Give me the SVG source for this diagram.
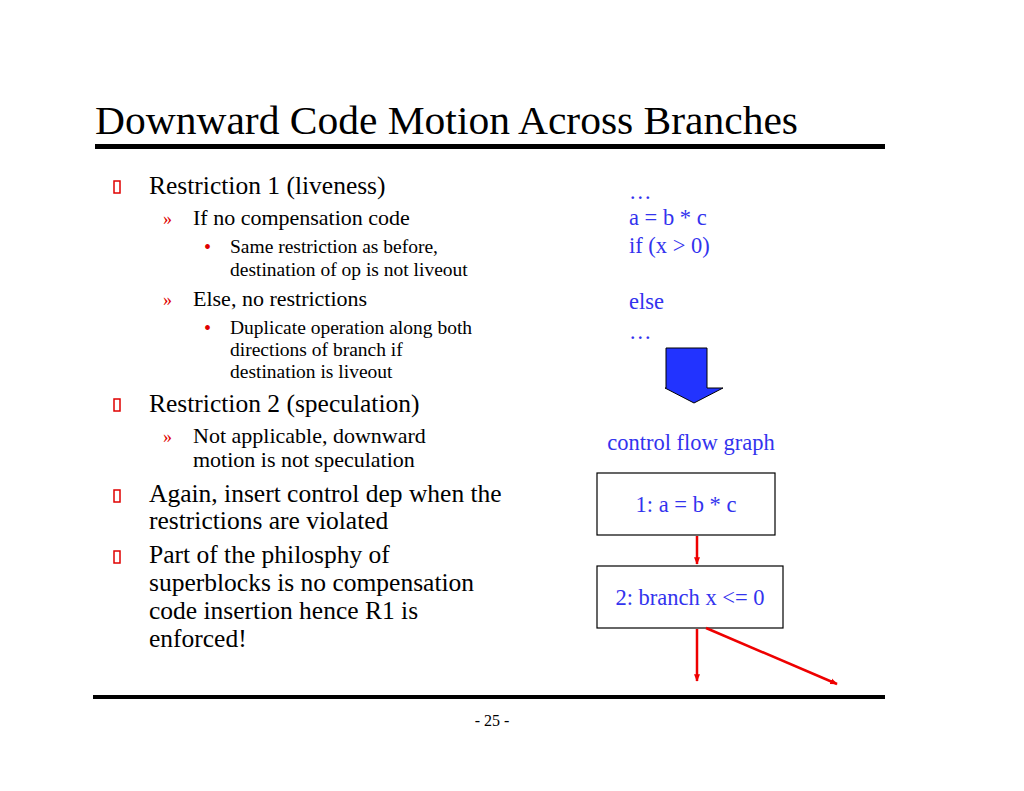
<svg xmlns="http://www.w3.org/2000/svg" width="1024" height="791" viewBox="0 0 1024 791">
<style>
text{font-family:"Liberation Serif","Times New Roman",serif}
.t{font-size:40px;fill:#000}
.l1{font-size:25.5px;fill:#000}
.l2{font-size:22px;fill:#000}
.l3{font-size:19.5px;fill:#000}
.bt{font-size:22.5px;fill:#3333ee}
.m{fill:#e00000}
.sq{fill:none;stroke:#e00000;stroke-width:1.5}
.box{fill:#fff;stroke:#000;stroke-width:1.2}
.e{stroke:#ee0000;stroke-width:2.5;fill:none}
</style>
<defs><marker id="ah" viewBox="0 0 10 10" refX="9" refY="5" markerWidth="3" markerHeight="3" orient="auto"><path d="M0,1 L10,5 L0,9 z" fill="#ee0000"/></marker></defs>
<rect width="1024" height="791" fill="#fff"/>
<text class="t" x="95" y="134" textLength="703" lengthAdjust="spacingAndGlyphs">Downward Code Motion Across Branches</text>
<rect x="95" y="144" width="790" height="5" fill="#000"/>
<rect x="93" y="695" width="792" height="4" fill="#000"/>
<text x="492" y="726" font-size="16" text-anchor="middle">- 25 -</text>
<g id="bullets">
<rect class="sq" x="114" y="181" width="6" height="12"/>
<text class="l1" x="149" y="194">Restriction 1 (liveness)</text>
<text class="m" x="163" y="225" font-size="18">»</text>
<text class="l2" x="193" y="225">If no compensation code</text>
<text class="m" x="204" y="254" font-size="20">•</text>
<text class="l3" x="230" y="253">Same restriction as before,</text>
<text class="l3" x="230" y="276">destination of op is not liveout</text>
<text class="m" x="163" y="306" font-size="18">»</text>
<text class="l2" x="193" y="306">Else, no restrictions</text>
<text class="m" x="204" y="335" font-size="20">•</text>
<text class="l3" x="230" y="334">Duplicate operation along both</text>
<text class="l3" x="230" y="356">directions of branch if</text>
<text class="l3" x="230" y="378">destination is liveout</text>
<rect class="sq" x="114" y="399" width="6" height="12"/>
<text class="l1" x="149" y="412">Restriction 2 (speculation)</text>
<text class="m" x="163" y="443" font-size="18">»</text>
<text class="l2" x="193" y="443">Not applicable, downward</text>
<text class="l2" x="193" y="467">motion is not speculation</text>
<rect class="sq" x="114" y="490" width="6" height="12"/>
<text class="l1" x="149" y="502">Again, insert control dep when the</text>
<text class="l1" x="149" y="529">restrictions are violated</text>
<rect class="sq" x="114" y="551" width="6" height="12"/>
<text class="l1" x="149" y="563">Part of the philosphy of</text>
<text class="l1" x="149" y="591">superblocks is no compensation</text>
<text class="l1" x="149" y="619">code insertion hence R1 is</text>
<text class="l1" x="149" y="647">enforced!</text>
</g>
<g id="code">
<text class="bt" x="629" y="199">…</text>
<text class="bt" x="629" y="225">a = b * c</text>
<text class="bt" x="629" y="253">if (x &gt; 0)</text>
<text class="bt" x="629" y="309">else</text>
<text class="bt" x="629" y="339">…</text>
</g>
<path id="bigarrow" d="M666,348 H707 V388 H723 L694,403 L665,388 H666 Z" fill="#2233ff" stroke="#000" stroke-width="1"/>
<text class="bt" x="691" y="450" text-anchor="middle">control flow graph</text>
<g id="n1"><rect class="box" x="597" y="473" width="178" height="62"/><text class="bt" x="686" y="512" text-anchor="middle">1: a = b * c</text></g>
<g id="n2"><rect class="box" x="597" y="566" width="186" height="62"/><text class="bt" x="690" y="605" text-anchor="middle">2: branch x &lt;= 0</text></g>
<g id="edges">
<line class="e" x1="697" y1="536" x2="697" y2="564" marker-end="url(#ah)"/>
<line class="e" x1="697" y1="629" x2="697" y2="681" marker-end="url(#ah)"/>
<line class="e" x1="706" y1="628" x2="837" y2="684" marker-end="url(#ah)"/>
</g>
</svg>
